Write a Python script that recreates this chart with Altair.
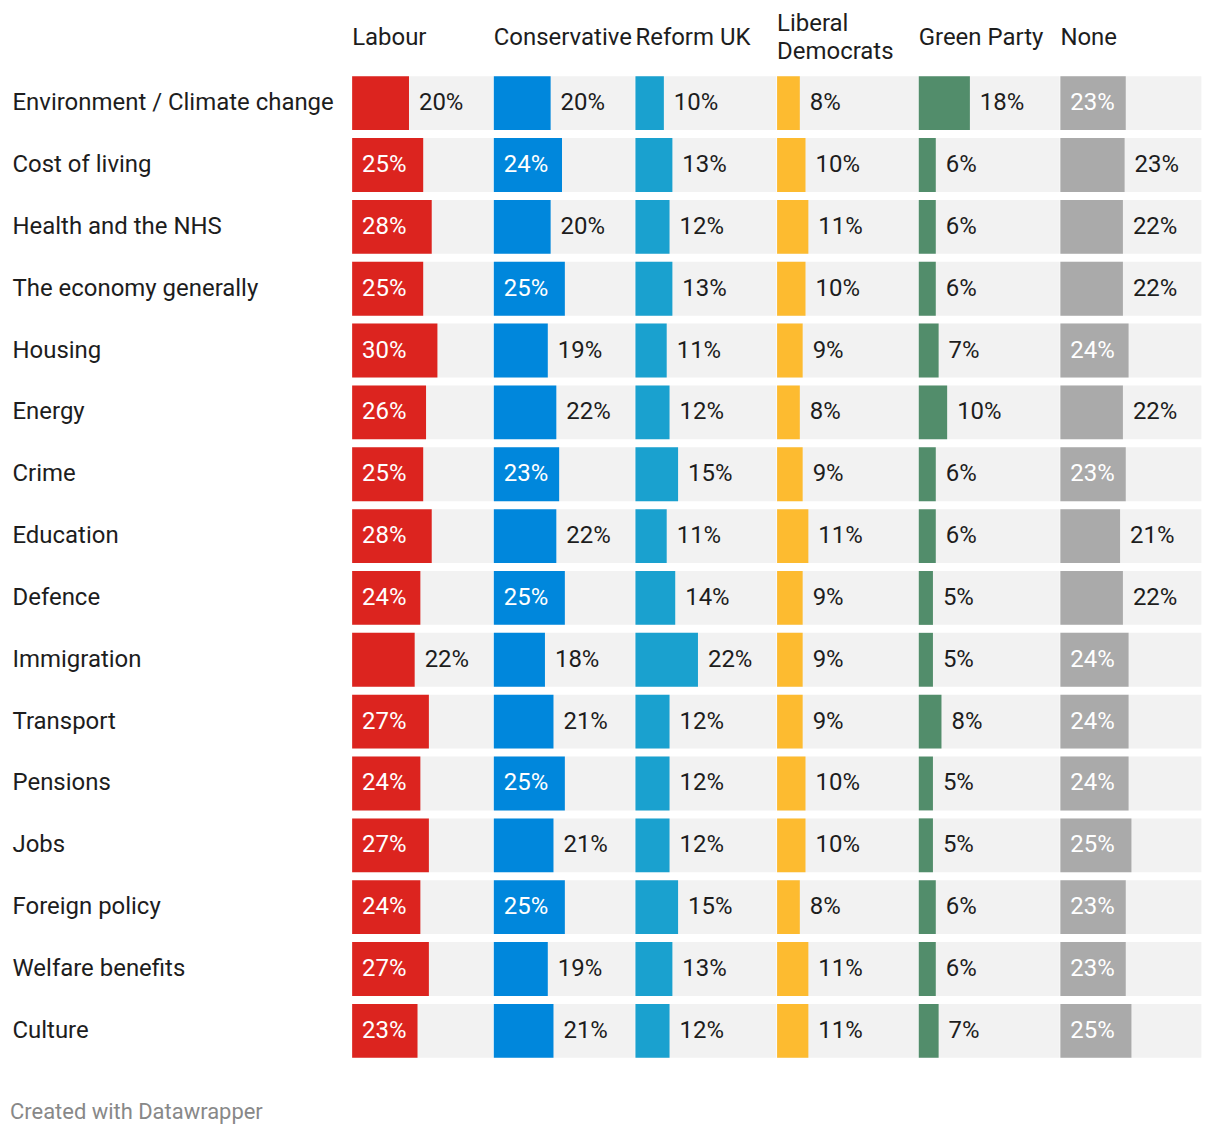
import altair as alt
import pandas as pd

issues = [
    "Environment / Climate change", "Cost of living", "Health and the NHS",
    "The economy generally", "Housing", "Energy", "Crime", "Education",
    "Defence", "Immigration", "Transport", "Pensions", "Jobs",
    "Foreign policy", "Welfare benefits", "Culture",
]
parties = ["Labour", "Conservative", "Reform UK", "Liberal Democrats", "Green Party", "None"]
colors = ["#dc241f", "#0087dc", "#1aa1cf", "#fdbb30", "#528d6b", "#aaaaaa"]

labour = [20, 25, 28, 25, 30, 26, 25, 28, 24, 22, 27, 24, 27, 24, 27, 23]
conservative = [20, 24, 20, 25, 19, 22, 23, 22, 25, 18, 21, 25, 21, 25, 19, 21]
reform = [10, 13, 12, 13, 11, 12, 15, 11, 14, 22, 12, 12, 12, 15, 13, 12]
libdem = [8, 10, 11, 10, 9, 8, 9, 11, 9, 9, 9, 10, 10, 8, 11, 11]
green = [18, 6, 6, 6, 7, 10, 6, 6, 5, 5, 8, 5, 5, 6, 6, 7]
none = [23, 22.6, 22, 22, 24, 22, 23, 21, 22, 24, 24, 24, 25, 23, 23, 25]

series = [labour, conservative, reform, libdem, green, none]
rows = []
for p, vals in zip(parties, series):
    for iss, v in zip(issues, vals):
        rows.append({"party": p, "issue": iss, "value": v})
df = pd.DataFrame(rows)

FONT = "Roboto"
TEXT = "#1d1d1d"
FS = 24
XMAX = 49.6
THRESH = 22.8
BL = "\u2800"  # blank filler line

xscale = alt.Scale(domain=[0, XMAX], nice=False, zero=True)
yenc = alt.Y(
    "issue:N", sort=issues, title=None,
    scale=alt.Scale(paddingInner=0.129, paddingOuter=0),
    axis=alt.Axis(
        labelAlign="left", labelPadding=341, labelFont=FONT, labelFontSize=FS,
        labelColor=TEXT, domain=False, ticks=False, tickSize=0, labelLimit=400,
    ),
)

base = alt.Chart().encode(y=yenc)

bg = base.mark_bar(color="#f2f2f2").encode(
    x=alt.XDatum(0, type="quantitative", scale=xscale, axis=None),
    x2=alt.X2Datum(XMAX),
)
bars = base.mark_bar().encode(
    x=alt.X("value:Q", scale=xscale, axis=None),
    color=alt.Color("party:N", scale=alt.Scale(domain=parties, range=colors), legend=None),
)
t_in = base.mark_text(align="left", dx=10, color="white", font=FONT, fontSize=FS).encode(
    x=alt.XDatum(0, type="quantitative"),
    text="label:N",
).transform_calculate(label="format(datum.value, '.0f') + '%'").transform_filter(
    f"datum.value >= {THRESH}"
)
t_out = base.mark_text(align="left", dx=10, color=TEXT, font=FONT, fontSize=FS).encode(
    x=alt.X("value:Q"),
    text="label:N",
).transform_calculate(label="format(datum.value, '.0f') + '%'").transform_filter(
    f"datum.value < {THRESH}"
)

layer = alt.layer(bg, bars, t_in, t_out).properties(width=141.33, height=984)

chart = layer.facet(
    column=alt.Column(
        "party:N", sort=parties, title=None,
        header=alt.Header(
            labelFont=FONT, labelFontSize=FS, labelColor=TEXT,
            labelAlign="left", labelAnchor="start", labelOrient="top",
            labelBaseline="middle", labelLineHeight=14, labelPadding=0,
            labelExpr=(
                f"datum.value == 'Liberal Democrats' ? ['Liberal', '{BL}', 'Democrats'] "
                f": ['{BL}', datum.value, '{BL}']"
            ),
        ),
    ),
    data=df,
    spacing=0,
).properties(
    title=alt.TitleParams(
        "Created with Datawrapper", orient="bottom", anchor="start", font=FONT,
        fontSize=22, fontWeight="normal", color="#888888", offset=44, dx=-2,
    ),
    padding={"left": 2, "top": 3, "right": 10, "bottom": 10},
).configure_view(stroke=None)

chart.save("out.html", embed_options={"renderer": "svg", "actions": False})
